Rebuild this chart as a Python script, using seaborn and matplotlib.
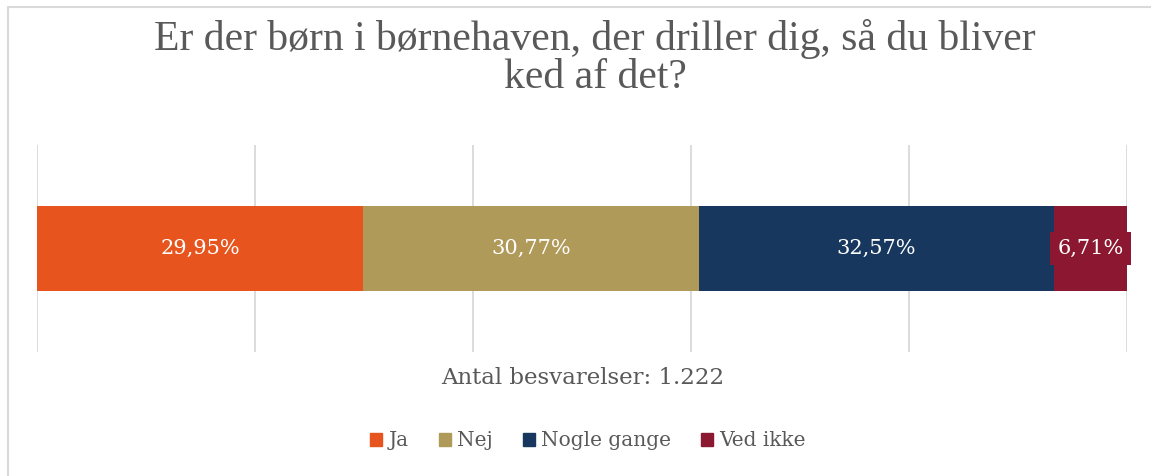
import pandas as pd
import seaborn as sns
import matplotlib.pyplot as plt
from matplotlib.lines import Line2D

# DATA
svar = ["Ja", "Nej", "Nogle gange", "Ved ikke"]
andel = [29.95, 30.77, 32.57, 6.71]
farver = ["#E8541E", "#B09A5A", "#17375E", "#8C1730"]
titel = "Er der børn i børnehaven, der driller dig, så du bliver\nked af det?"
akse_tekst = "Antal besvarelser: 1.222"

df = pd.DataFrame({"svar": svar, "andel": andel})
df["start"] = df["andel"].cumsum() - df["andel"]
df["slut"] = df["andel"].cumsum()

sns.set_theme(style="white")
plt.rcParams["font.family"] = ["DejaVu Serif", "DejaVu Sans"]

fig = plt.figure(figsize=(11.51, 4.76), dpi=100)
ax = fig.add_axes([37 / 1151, 1 - 352 / 476, 1090 / 1151, 207 / 476])

# stablede bjælker: tegn fra højre mod venstre med kumulative summer
for i in reversed(range(len(df))):
    sns.barplot(x=[df["slut"][i]], y=[""], orient="h", color=farver[i],
                saturation=1, width=0.406, ax=ax, label=svar[i], linewidth=0)

for i, row in df.iterrows():
    midt = row["start"] + row["andel"] / 2
    tekst = f"{row['andel']:.2f}%".replace(".", ",")
    if row["andel"] < 10:
        ax.text(midt, 0, tekst, ha="center", va="center", color="white", fontsize=15,
                bbox=dict(boxstyle="square,pad=0.35", fc=farver[i], ec="none"))
    else:
        ax.text(midt, 0, tekst, ha="center", va="center", color="white", fontsize=15)

ax.set_xlim(0, 100)
ax.set_ylim(0.5, -0.5)
ax.set_xticks([0, 20, 40, 60, 80, 100])
ax.xaxis.grid(True, color="#D9D9D9", linewidth=1.3)
ax.set_axisbelow(True)
ax.tick_params(bottom=False, left=False, labelbottom=False, labelleft=False)
for s in ax.spines.values():
    s.set_visible(False)
ax.set_ylabel("")
ax.set_xlabel("")

fig.text(583 / 1151, 1 - 378 / 476, akse_tekst, ha="center", va="center",
         fontsize=16.5, color="#595959")
fig.text(595 / 1151, 1 - 58 / 476, titel, ha="center", va="center",
         fontsize=30, color="#595959", family=["Liberation Serif"], linespacing=1.0)

handles = [plt.Rectangle((0, 0), 1, 1, color=c) for c in farver]
fig.legend(handles, svar, loc="center", bbox_to_anchor=(588 / 1151, 1 - 441 / 476),
           ncol=4, frameon=False, fontsize=14.5, handlelength=0.6, handleheight=0.6,
           handletextpad=0.3, columnspacing=1.5, labelcolor="#595959")
if ax.get_legend():
    ax.get_legend().remove()

# ramme
fig.add_artist(Line2D([8 / 1151, 8 / 1151], [0, 1 - 7 / 476], transform=fig.transFigure,
                      color="#D9D9D9", linewidth=1.5))
fig.add_artist(Line2D([8 / 1151, 1], [1 - 7 / 476, 1 - 7 / 476], transform=fig.transFigure,
                      color="#D9D9D9", linewidth=1.5))

fig.savefig("out.png", dpi=100)
